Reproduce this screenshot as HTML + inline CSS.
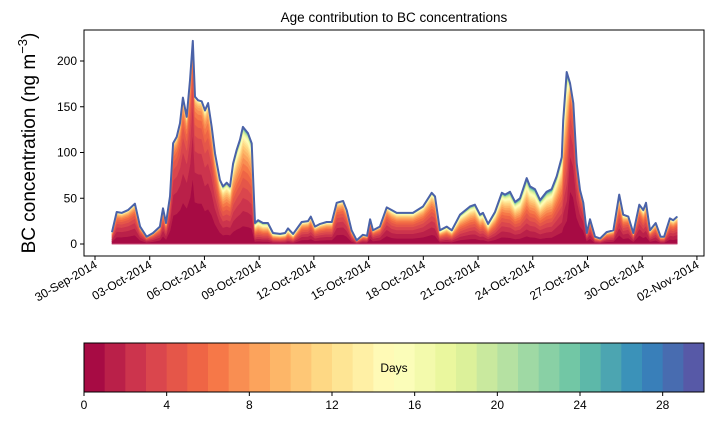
<!DOCTYPE html>
<html><head><meta charset="utf-8"><style>
body{margin:0;background:#fff;width:714px;height:425px;overflow:hidden}
svg{font-family:"Liberation Sans","DejaVu Sans",sans-serif}
</style></head><body>
<svg id="c" width="714" height="425" xmlns="http://www.w3.org/2000/svg">
<text x="394" y="22" font-size="13.5" text-anchor="middle">Age contribution to BC concentrations</text>
<text transform="translate(35,143) rotate(-90)" font-size="19" text-anchor="middle">BC concentration (ng m<tspan font-size="13" dy="-8">−3</tspan><tspan dy="8">)</tspan></text>
<g id="plot"></g>
<g id="axes"></g>
<g id="cbar"></g>
</svg>
<script>
// data: days since 30-Sep-2014, total BC, mean age (days)
const days=[0.93,1.19,1.46,1.81,2.19,2.47,2.83,3.18,3.56,3.73,3.89,4.11,4.28,4.48,4.66,4.82,5.03,5.21,5.36,5.48,5.65,5.85,6.03,6.20,6.40,6.58,6.85,7.02,7.22,7.40,7.57,7.77,7.95,8.11,8.39,8.59,8.77,8.94,9.21,9.48,9.76,10.14,10.42,10.58,10.86,11.33,11.68,11.83,12.06,12.34,12.70,12.98,13.25,13.60,13.80,14.07,14.35,14.69,14.91,15.08,15.24,15.62,15.99,16.27,16.54,16.89,17.43,17.98,18.46,18.64,18.91,19.28,19.56,20.01,20.56,20.83,21.11,21.27,21.55,21.93,22.30,22.48,22.75,23.03,23.30,23.67,23.85,24.12,24.40,24.76,25.04,25.31,25.59,25.67,25.86,26.04,26.22,26.41,26.59,26.77,26.96,27.14,27.41,27.69,28.05,28.42,28.74,28.96,29.24,29.51,29.84,30.06,30.21,30.43,30.74,31.01,31.20,31.52,31.70,31.92];
const totals=[13,35,34,37,44,19,8,12,19,39,23,52,110,117,132,160,139,179,222,161,157,156,146,154,128,99,70,63,67,63,88,103,114,128,121,110,23,26,23,23,12,11,12,17,11,24,25,30,19,22,24,24,45,47,37,15,4,10,9,27,15,19,40,37,34,34,34,41,56,52,15,19,15,32,41,43,32,34,22,35,56,54,57,46,50,72,63,60,48,57,60,74,95,135,188,176,154,88,59,45,12,27,8,6,13,15,54,32,30,12,43,37,45,15,23,8,8,28,26,30];
const meanAge=[4,4,4,4,4,4,4,4,4,4,4,3,3,3,3,3,3,3,2.5,3,3,3,3.5,3.5,3.5,4,5,6,6,6,6,6,6,6,6,6,8,8,8,8,8,8,8,8,8,5,5,5,5,5,5,5,4,4,4,5,5,5,5,4,4,4,4,5,5,5,5,5,5,5,7,7,7,7,7,7,7,7,7,7,7,7,8,8,8,8,8,8,8,8,8,7,7,7,7,2.5,2.5,2.5,2.5,2.5,3,4,5,5,5,5,5,5,4,4,4,5,5,5,5,5,5,5,5,5,5,5,5];
const cbTicks=[0,4,8,12,16,20,24,28];
const xTickLabels=['30-Sep-2014','03-Oct-2014','06-Oct-2014','09-Oct-2014','12-Oct-2014','15-Oct-2014','18-Oct-2014','21-Oct-2014','24-Oct-2014','27-Oct-2014','30-Oct-2014','02-Nov-2014'];
const yTicks=[0,50,100,150,200];
const NL=30;
const L=84,R=704,T=30,B=256;
const X=d=>95+d*18.24, Y=v=>244-v*0.915;
const NS='http://www.w3.org/2000/svg';
function mk(t,a,p){const e=document.createElementNS(NS,t);for(const k in a)e.setAttribute(k,a[k]);p.appendChild(e);return e;}
const anchors=['#9e0142','#d53e4f','#f46d43','#fdae61','#fee08b','#ffffbf','#e6f598','#abdda4','#66c2a5','#3288bd','#5e4fa2'];
function hex(h){return [1,3,5].map(i=>parseInt(h.substr(i,2),16));}
function spectral(t){const p=t*10,i=Math.min(9,Math.floor(p)),f=p-i;const a=hex(anchors[i]),b=hex(anchors[i+1]);return 'rgb('+a.map((v,j)=>Math.round(v+(b[j]-v)*f)).join(',')+')';}
const cols=[];for(let k=0;k<NL;k++)cols.push(spectral((k+0.5)/NL));
const N=Math.min(days.length,totals.length);
const fr=[];
for(let i=0;i<N;i++){const a=meanAge[Math.min(i,meanAge.length-1)]||5;let w=[],s=0;for(let k=0;k<NL;k++){const v=Math.exp(-k/a)-Math.exp(-(k+1)/a);w.push(v);s+=v;}fr.push(w.map(v=>v/s));}
const plot=document.getElementById('plot');
let cumPrev=[];for(let i=0;i<N;i++)cumPrev.push(0);
for(let k=0;k<NL;k++){
  const cum=cumPrev.map((c,i)=>c+fr[i][k]*totals[i]);
  let d='M';
  for(let i=0;i<N;i++)d+=(i?'L':'')+X(days[i]).toFixed(1)+','+Y(cum[i]).toFixed(1);
  for(let i=N-1;i>=0;i--)d+='L'+X(days[i]).toFixed(1)+','+Y(cumPrev[i]).toFixed(1);
  const p=mk('path',{d:d+'Z',fill:cols[k],stroke:cols[k],'stroke-width':0.6},plot);
  
  
  cumPrev=cum;
}
let ld='M';for(let i=0;i<N;i++)ld+=(i?'L':'')+X(days[i]).toFixed(1)+','+Y(totals[i]).toFixed(1);
const ln=mk('path',{d:ld,fill:'none',stroke:'#4a62a8','stroke-width':2,'stroke-linejoin':'round'},plot);


const base=mk('line',{x1:X(days[0]),x2:X(days[N-1]),y1:244,y2:244,stroke:'#c8507a','stroke-width':1},plot);


const ax=document.getElementById('axes');
mk('rect',{x:L,y:T,width:R-L,height:B-T,fill:'none',stroke:'#000','stroke-width':1},ax);
yTicks.forEach(v=>{mk('line',{x1:L-4,x2:L,y1:Y(v),y2:Y(v),stroke:'#000'},ax);
  const t=mk('text',{x:L-7,y:Y(v)+4,'font-size':12,'text-anchor':'end'},ax);t.textContent=v;
  
  });
xTickLabels.forEach((s,i)=>{const x=X(i*3);mk('line',{x1:x,x2:x,y1:B,y2:B+4,stroke:'#000'},ax);
  const t=mk('text',{transform:'translate('+(x+3)+','+(B+11)+') rotate(-30)','font-size':12,'text-anchor':'end'},ax);t.textContent=s;
  
  });
const cb=document.getElementById('cbar');
const cx0=84,cx1=704,cy0=343,cy1=392,cw=(cx1-cx0)/NL;
for(let k=0;k<NL;k++){const r=mk('rect',{x:cx0+k*cw,y:cy0,width:cw+0.5,height:cy1-cy0,fill:cols[k]},cb);
  
  }
mk('rect',{x:cx0,y:cy0,width:cx1-cx0,height:cy1-cy0,fill:'none',stroke:'#000'},cb);
const dl=mk('text',{x:394,y:372,'font-size':12,'text-anchor':'middle'},cb);dl.textContent='Days';


cbTicks.forEach(v=>{const x=cx0+v*cw;mk('line',{x1:x,x2:x,y1:cy1,y2:cy1+4,stroke:'#000'},cb);
  const t=mk('text',{x:x,y:cy1+17,'font-size':12,'text-anchor':'middle'},cb);t.textContent=v;
  
  });
</script>
</body></html>
